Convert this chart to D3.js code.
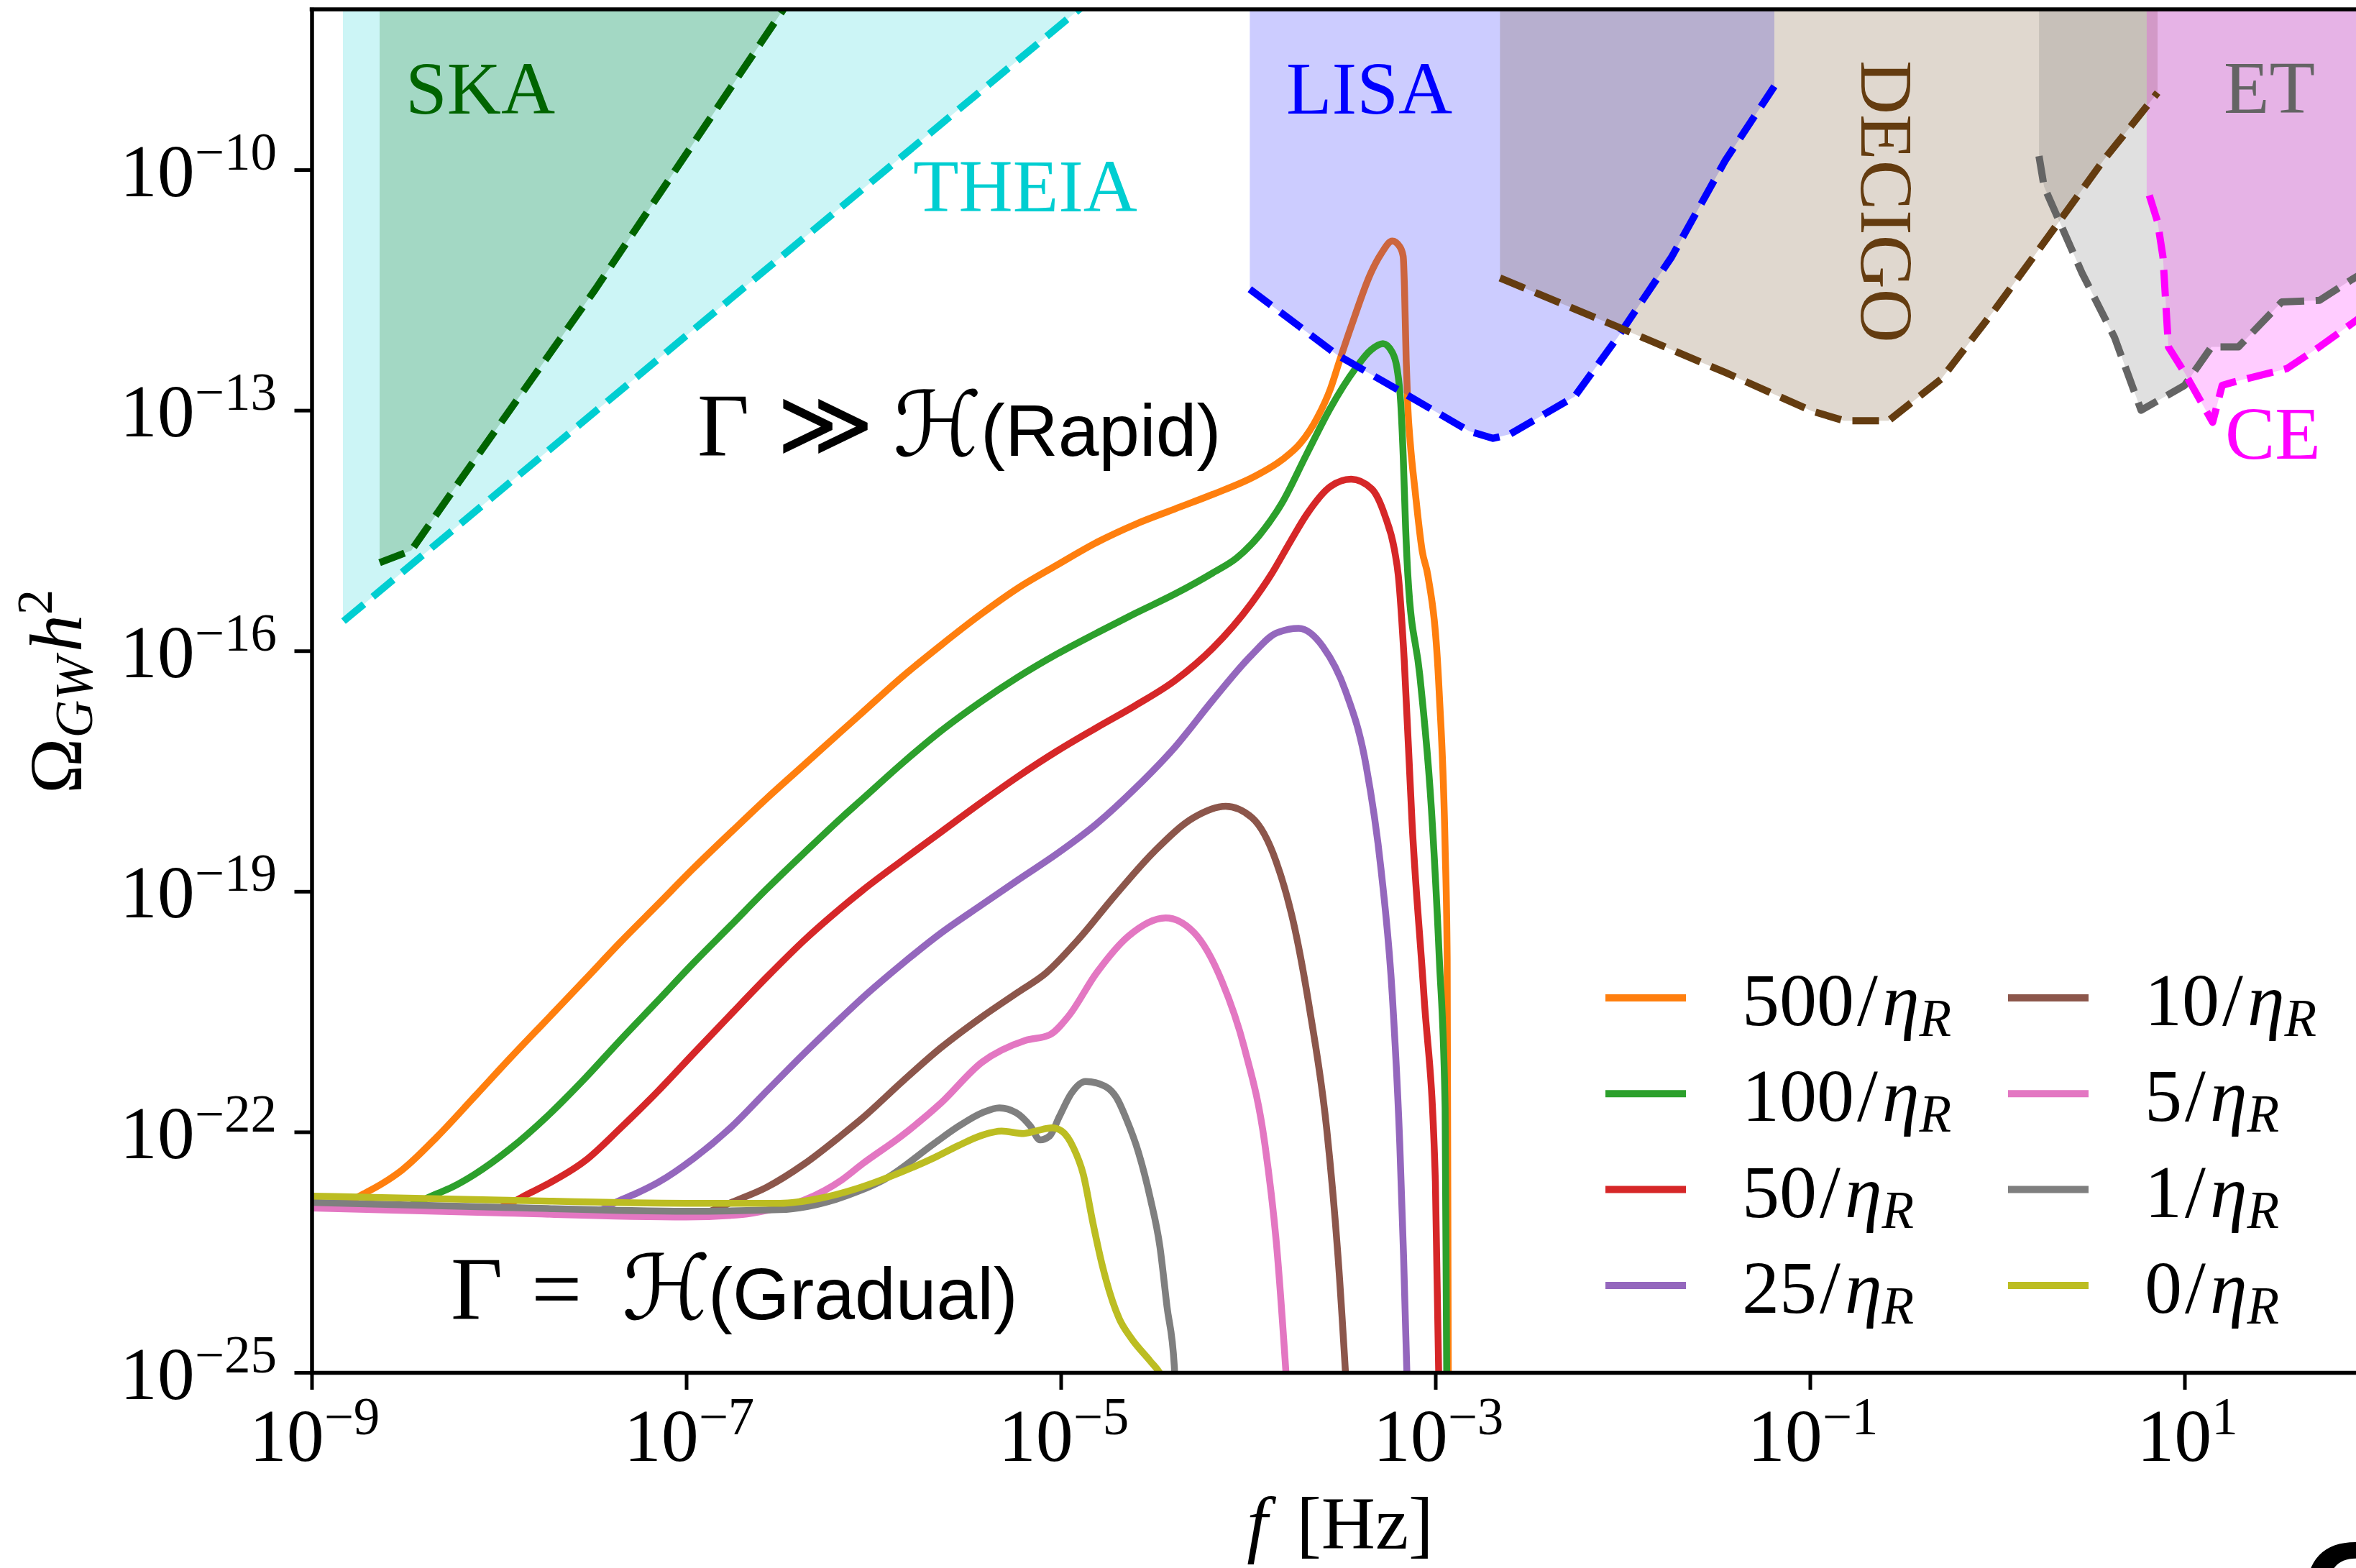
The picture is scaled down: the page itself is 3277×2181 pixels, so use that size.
<!DOCTYPE html>
<html>
<head>
<meta charset="utf-8">
<script src="https://cdn.jsdelivr.net/npm/d3@7"></script>
<style>
  html, body { margin: 0; padding: 0; background: #ffffff; }
  svg { display: block; }
</style>
</head>
<body>
<svg id="chart" width="3277" height="2181"></svg>
<script>
// ---------------------------------------------------------------
// Data: every point is [log10(f / Hz), log10(Omega_GW h^2)]
// ---------------------------------------------------------------
const seriesNames  = ["500", "100", "50", "25", "10", "5", "1", "0"];
const seriesColors = ["#ff7f0e", "#2ca02c", "#d62728", "#9467bd",
                      "#8c564b", "#e377c2", "#7f7f7f", "#bcbd22"];

const gw500 = [[-9.00,-22.92],[-8.92,-22.91],[-8.84,-22.88],[-8.77,-22.83],[-8.72,-22.77],[-8.62,-22.64],
  [-8.52,-22.48],[-8.33,-22.06],[-8.13,-21.56],[-7.94,-21.08],[-7.74,-20.59],[-7.54,-20.10],[-7.35,-19.63],
  [-7.15,-19.16],[-6.96,-18.71],[-6.76,-18.26],[-6.57,-17.84],[-6.37,-17.42],[-6.17,-17.00],[-6.06,-16.77],
  [-5.85,-16.33],[-5.64,-15.93],[-5.43,-15.55],[-5.23,-15.22],[-5.02,-14.93],[-4.81,-14.65],[-4.60,-14.42],
  [-4.39,-14.23],[-4.19,-14.05],[-3.97,-13.83],[-3.82,-13.62],[-3.72,-13.41],[-3.63,-13.09],[-3.56,-12.73],
  [-3.51,-12.37],[-3.44,-11.89],[-3.345,-11.29],[-3.29,-11.05],[-3.23,-10.89],[-3.19,-10.96],[-3.172,-11.08],
  [-3.165,-11.47],[-3.156,-12.37],[-3.147,-12.97],[-3.134,-13.41],[-3.108,-14.01],[-3.07,-14.76],[-3.04,-15.06],
  [-2.98,-16.50],[-2.948,-18.45],[-2.937,-19.84],[-2.930,-26.0]];

const gw100 = [[-9.00,-22.93],[-8.60,-22.95],[-8.50,-22.93],[-8.43,-22.88],[-8.37,-22.81],[-8.25,-22.69],
  [-8.13,-22.53],[-7.94,-22.21],[-7.74,-21.80],[-7.54,-21.33],[-7.35,-20.85],[-7.15,-20.36],[-6.96,-19.89],
  [-6.76,-19.42],[-6.57,-18.97],[-6.37,-18.52],[-6.17,-18.08],[-6.06,-17.85],[-5.85,-17.41],[-5.64,-17.00],
  [-5.43,-16.64],[-5.23,-16.33],[-5.02,-16.04],[-4.81,-15.78],[-4.60,-15.53],[-4.39,-15.29],[-4.19,-15.03],
  [-4.06,-14.84],[-3.94,-14.56],[-3.82,-14.16],[-3.69,-13.56],[-3.56,-12.97],[-3.43,-12.49],[-3.345,-12.25],
  [-3.28,-12.17],[-3.23,-12.28],[-3.204,-12.49],[-3.185,-12.91],[-3.172,-13.56],[-3.159,-14.46],
  [-3.147,-15.06],[-3.083,-16.31],[-3.021,-17.98],[-2.979,-19.84],[-2.948,-21.70],[-2.937,-26.0]];

const gw50 = [[-9.00,-22.93],[-8.50,-22.96],[-8.10,-22.98],[-8.00,-22.95],[-7.93,-22.88],[-7.85,-22.78],
  [-7.74,-22.65],[-7.54,-22.36],[-7.35,-21.95],[-7.15,-21.49],[-6.96,-21.02],[-6.76,-20.53],[-6.57,-20.07],
  [-6.37,-19.61],[-6.17,-19.20],[-6.06,-18.99],[-5.85,-18.62],[-5.64,-18.26],[-5.43,-17.90],[-5.23,-17.57],
  [-5.02,-17.25],[-4.81,-16.96],[-4.60,-16.68],[-4.39,-16.37],[-4.19,-15.97],[-3.98,-15.40],[-3.88,-15.06],
  [-3.77,-14.62],[-3.69,-14.31],[-3.56,-13.95],[-3.45,-13.86],[-3.34,-13.98],[-3.27,-14.31],[-3.217,-14.76],
  [-3.198,-15.06],[-3.166,-16.13],[-3.124,-18.17],[-3.061,-20.30],[-3.00,-22.62],[-2.975,-26.0]];

const gw25 = [[-9.00,-22.93],[-8.00,-22.99],[-7.55,-23.01],[-7.45,-22.97],[-7.37,-22.87],[-7.26,-22.76],
  [-7.15,-22.63],[-6.96,-22.33],[-6.76,-21.94],[-6.57,-21.49],[-6.37,-21.02],[-6.17,-20.57],[-6.06,-20.33],
  [-5.85,-19.91],[-5.64,-19.52],[-5.43,-19.18],[-5.23,-18.86],[-5.02,-18.53],[-4.81,-18.16],[-4.60,-17.71],
  [-4.39,-17.20],[-4.19,-16.62],[-3.98,-16.05],[-3.85,-15.78],[-3.73,-15.72],[-3.60,-15.95],[-3.48,-16.50],
  [-3.37,-17.43],[-3.29,-18.73],[-3.23,-20.30],[-3.19,-22.16],[-3.17,-23.54],[-3.14,-26.0]];

const gw10 = [[-9.00,-22.94],[-8.00,-23.00],[-7.00,-23.04],[-6.90,-23.01],[-6.82,-22.94],[-6.76,-22.88],
  [-6.57,-22.69],[-6.37,-22.40],[-6.17,-22.04],[-6.06,-21.83],[-5.85,-21.38],[-5.64,-20.95],[-5.43,-20.58],
  [-5.23,-20.26],[-5.08,-20.02],[-4.91,-19.61],[-4.71,-19.05],[-4.50,-18.50],[-4.29,-18.08],[-4.12,-17.94],
  [-3.98,-18.08],[-3.85,-18.63],[-3.75,-19.47],[-3.67,-20.49],[-3.58,-21.97],[-3.52,-23.55],[-3.455,-26.0]];

const gw5 = [[-9.00,-22.95],[-8.00,-23.01],[-7.00,-23.06],[-6.70,-23.03],[-6.57,-22.98],[-6.37,-22.85],
  [-6.17,-22.60],[-6.06,-22.40],[-5.85,-22.05],[-5.64,-21.64],[-5.42,-21.13],[-5.19,-20.86],[-5.06,-20.79],
  [-4.96,-20.56],[-4.81,-20.02],[-4.64,-19.56],[-4.44,-19.33],[-4.29,-19.51],[-4.14,-20.12],[-4.02,-20.95],
  [-3.91,-22.16],[-3.85,-23.36],[-3.77,-26.0]];

const gw1 = [[-9.00,-22.88],[-8.00,-22.94],[-7.00,-22.99],[-6.50,-22.97],[-6.20,-22.84],[-6.08,-22.74],
  [-5.94,-22.59],[-5.674,-22.14],[-5.546,-21.93],[-5.418,-21.76],[-5.328,-21.70],[-5.239,-21.76],
  [-5.162,-21.93],[-5.111,-22.10],[-5.059,-22.05],[-5.008,-21.81],[-4.944,-21.52],[-4.868,-21.37],
  [-4.765,-21.43],[-4.701,-21.58],[-4.650,-21.84],[-4.586,-22.25],[-4.522,-22.83],[-4.471,-23.43],
  [-4.433,-24.18],[-4.394,-24.92],[-4.38,-26.0]];

const gw0 = [[-9.00,-22.80],[-8.00,-22.85],[-7.00,-22.89],[-6.50,-22.89],[-6.29,-22.83],[-6.08,-22.70],
  [-5.85,-22.50],[-5.674,-22.32],[-5.546,-22.17],[-5.418,-22.04],[-5.316,-21.99],[-5.200,-22.02],
  [-5.136,-21.99],[-5.047,-21.95],[-4.995,-21.99],[-4.932,-22.20],[-4.880,-22.53],[-4.829,-23.13],
  [-4.778,-23.67],[-4.688,-24.33],[-4.625,-24.57],[-4.522,-24.86],[-4.471,-25.01],[-4.40,-25.4]];

const spectra = [gw500, gw100, gw50, gw25, gw10, gw5, gw1, gw0];

// Detector sensitivity curves (same units)
const skaCurve    = [[-8.637,-14.90],[-8.468,-14.75],[-8.230,-13.95],[-7.485,-11.49],[-6.484,-8.01],[-6.20,-7.10]];
const theiaCurve  = [[-8.830,-15.63],[-6.825,-11.73],[-4.902,-8.00],[-4.50,-7.22]];
const lisaCurve   = [[-3.991,-11.49],[-3.524,-12.31],[-3.166,-12.79],[-2.820,-13.26],[-2.692,-13.35],
                     [-2.603,-13.30],[-2.257,-12.83],[-2.027,-12.09],[-1.739,-11.09],[-1.451,-9.88],[-1.190,-8.96]];
const decigoCurve = [[-2.655,-11.35],[-2.027,-11.96],[-1.451,-12.53],[-0.990,-13.01],[-0.818,-13.13],
                     [-0.580,-13.13],[-0.299,-12.61],[-0.008,-11.73],[0.280,-10.81],[0.568,-9.88],[0.856,-9.04]];
const etCurve     = [[0.223,-9.83],[0.250,-10.21],[0.453,-11.29],[0.626,-12.09],[0.768,-13.00],[1.000,-12.69],
                     [1.144,-12.21],[1.288,-12.21],[1.519,-11.65],[1.720,-11.63],[1.893,-11.37],[2.000,-11.22]];
const ceCurve     = [[0.812,-10.32],[0.856,-10.65],[0.885,-11.09],[0.914,-12.21],[1.000,-12.53],[1.150,-13.15],
                     [1.201,-12.69],[1.259,-12.65],[1.547,-12.48],[1.720,-12.21],[1.916,-11.88],[2.000,-11.75]];

// Left edges of shaded regions (log10 f) where they differ from the curve start
const skaLeft = -8.637, theiaLeft = -8.833, ceLeft = 0.798;

const xTickExps = [-9, -7, -5, -3, -1, 1];
const yTickExps = [-25, -22, -19, -16, -13, -10];

// ---------------------------------------------------------------
const svg = d3.select("#chart");
const W = 3277, H = 2181;
const plot = { left: 433.5, right: 3299, top: 13, bottom: 1909 };
const serif = "'Liberation Serif', 'DejaVu Serif', serif";
const sans  = "'Liberation Sans', Arial, sans-serif";

svg.append("rect").attr("width", W).attr("height", H).attr("fill", "#ffffff");

const x = d3.scaleLog().domain([1e-9, 1e2]).range([plot.left, plot.right]);
const y = d3.scaleLog().domain([1e-25, 1e-8]).range([plot.bottom, plot.top]);
const p10 = v => Math.pow(10, v);

svg.append("defs").append("clipPath").attr("id", "plotClip")
  .append("rect").attr("x", plot.left).attr("y", plot.top)
  .attr("width", plot.right - plot.left).attr("height", plot.bottom - plot.top);

const area = svg.append("g").attr("clip-path", "url(#plotClip)");

const smooth = d3.line().x(d => x(p10(d[0]))).y(d => y(p10(d[1])))
  .curve(d3.curveMonotoneX);
const straight = d3.line().x(d => x(p10(d[0]))).y(d => y(p10(d[1])));

// region above a sensitivity curve, closed along the top of the plot
function regionPts(curve, leftX) {
  const first = curve[0], last = curve[curve.length - 1];
  const pts = [];
  if (leftX !== undefined) pts.push([leftX, 0], [leftX, first[1]]);
  else pts.push([first[0], 0]);
  curve.forEach(p => pts.push(p));
  pts.push([last[0], 0]);
  return pts;
}
function fillRegion(curve, color, leftX) {
  area.append("path").attr("d", straight(regionPts(curve, leftX)) + "Z")
    .attr("fill", color).attr("fill-opacity", 0.2).attr("stroke", "none");
}

const DLW = 10, DASH = "37,16";
const LW = 9.5;

// shaded regions under the spectra
fillRegion(theiaCurve, "#00ced1", theiaLeft);
fillRegion(skaCurve, "#006400", skaLeft);

// spectra (first one sits beneath the LISA shading)
function drawSpectrum(i) {
  area.append("path").attr("d", smooth(spectra[i]))
    .attr("fill", "none").attr("stroke", seriesColors[i])
    .attr("stroke-width", LW).attr("stroke-linejoin", "round");
}
drawSpectrum(0);

fillRegion(lisaCurve, "#0000ff");
fillRegion(decigoCurve, "#643c10");
fillRegion(etCurve, "#646464");
fillRegion(ceCurve, "#ff00ff", ceLeft);

for (let i = 1; i < spectra.length; i++) drawSpectrum(i);

// dashed sensitivity boundaries
[[skaCurve, "#006400"], [theiaCurve, "#00ced1"], [lisaCurve, "#0000ff"],
 [decigoCurve, "#643c10"], [etCurve, "#646464"], [ceCurve, "#ff00ff"]].forEach(([c, col]) => {
  area.append("path").attr("d", straight(c)).attr("fill", "none")
    .attr("stroke", col).attr("stroke-width", DLW)
    .attr("stroke-dasharray", DASH).attr("stroke-linejoin", "round");
});

// ---------------------------------------------------------------
// Axes
const xAxis = d3.axisBottom(x).tickValues(xTickExps.map(p10)).tickSize(24).tickSizeOuter(0).tickFormat(() => "");
const yAxis = d3.axisLeft(y).tickValues(yTickExps.map(p10)).tickSize(24).tickSizeOuter(0).tickFormat(() => "");

const gx = svg.append("g").attr("transform", `translate(0,${plot.bottom})`).call(xAxis);
const gy = svg.append("g").attr("transform", `translate(${plot.left},0)`).call(yAxis);
[gx, gy].forEach(g => {
  g.select(".domain").attr("stroke", "#000").attr("stroke-width", 5.5).attr("stroke-linecap", "square");
  g.selectAll(".tick line").attr("stroke", "#000").attr("stroke-width", 5);
  g.selectAll(".tick text").remove();
});
svg.append("line").attr("x1", plot.left).attr("x2", plot.right).attr("y1", plot.top).attr("y2", plot.top)
  .attr("stroke", "#000").attr("stroke-width", 5.5).attr("stroke-linecap", "square");
svg.append("line").attr("x1", plot.right).attr("x2", plot.right).attr("y1", plot.top).attr("y2", plot.bottom)
  .attr("stroke", "#000").attr("stroke-width", 5.5);

function powLabel(sel, exp) {
  sel.append("tspan").text("10");
  sel.append("tspan").attr("font-size", 73).attr("dy", -37)
    .text(exp < 0 ? "\u2212" + Math.abs(exp) : String(exp));
}
xTickExps.forEach(e => {
  const t = svg.append("text").attr("x", x(p10(e)) + 4).attr("y", 2032)
    .attr("text-anchor", "middle").attr("font-family", serif).attr("font-size", 104).attr("fill", "#000");
  powLabel(t, e);
});
yTickExps.forEach(e => {
  const t = svg.append("text").attr("x", 385).attr("y", y(p10(e)) + 36.5)
    .attr("text-anchor", "end").attr("font-family", serif).attr("font-size", 104).attr("fill", "#000");
  powLabel(t, e);
});

// axis titles
const xt = svg.append("text").attr("x", 1864).attr("y", 2154).attr("text-anchor", "middle")
  .attr("font-family", serif).attr("font-size", 104).attr("fill", "#000");
xt.append("tspan").attr("font-style", "italic").text("f");
xt.append("tspan").attr("dx", 40).text("[Hz]");

const yt = svg.append("text").attr("transform", "translate(113,962) rotate(-90)")
  .attr("text-anchor", "middle").attr("font-family", serif).attr("font-size", 104).attr("fill", "#000");
yt.append("tspan").text("\u03A9");
yt.append("tspan").attr("font-size", 73).attr("font-style", "italic").attr("dy", 15).text("GW");
yt.append("tspan").attr("font-style", "italic").attr("dy", -15).attr("dx", 6).text("h");
yt.append("tspan").attr("font-size", 70).attr("dy", -41).text("2");

// ---------------------------------------------------------------
// Detector names
function label(txt, px, py, color) {
  return svg.append("text").attr("x", px).attr("y", py).attr("fill", color)
    .attr("font-family", serif).attr("font-size", 104).text(txt);
}
label("SKA", 564, 158, "#006400");
label("THEIA", 1270, 294, "#00ced1");
label("LISA", 1789, 158, "#0000ff");
label("ET", 3093, 157, "#646464");
label("CE", 3095, 638, "#ff00ff");
svg.append("text").attr("transform", "translate(2589,84) rotate(90)")
  .attr("fill", "#643c10").attr("font-family", serif).attr("font-size", 104).text("DECIGO");

// Regime annotations
function regime(by, parts) {
  const t = svg.append("text").attr("y", by).attr("fill", "#000");
  parts.forEach(p => {
    t.append("tspan").attr("x", p.x).attr("font-family", p.font).attr("font-size", p.size)
      .attr("font-style", p.italic ? "italic" : null).text(p.text);
  });
}
const scriptFont = "'DejaVu Serif', 'DejaVu Sans', serif";
const symFont = "'DejaVu Sans', sans-serif";
regime(634, [
  { x: 970, text: "\u0393", font: serif, size: 125 },
  { x: 1080, text: "\u226B", font: symFont, size: 130 },
  { x: 1242, text: "\u210B", font: scriptFont, size: 125 },
  { x: 1364, text: "(Rapid)", font: sans, size: 102 }
]);
regime(1835, [
  { x: 627, text: "\u0393", font: serif, size: 125 },
  { x: 739, text: "=", font: serif, size: 125 },
  { x: 865, text: "\u210B", font: scriptFont, size: 125 },
  { x: 985, text: "(Gradual)", font: sans, size: 102 }
]);

// ---------------------------------------------------------------
// Legend (two columns of four)
const legHandleX = [2233, 2793], legTextX = [2423, 2983];
const legRow0 = 1388, legStep = 133.3;
seriesNames.forEach((name, i) => {
  const col = Math.floor(i / 4), row = i % 4;
  const cy = legRow0 + row * legStep;
  svg.append("line").attr("x1", legHandleX[col]).attr("x2", legHandleX[col] + 112)
    .attr("y1", cy).attr("y2", cy).attr("stroke", seriesColors[i]).attr("stroke-width", 10);
  const t = svg.append("text").attr("x", legTextX[col]).attr("y", cy + 38)
    .attr("font-family", serif).attr("font-size", 104).attr("fill", "#000");
  t.append("tspan").text(name);
  t.append("tspan").attr("dx", 4).text("/");
  t.append("tspan").attr("font-style", "italic").attr("dx", 6).text("\u03B7");
  t.append("tspan").attr("font-style", "italic").attr("font-size", 73).attr("dy", 15).text("R");
});

// partial panel mark at the lower right corner
svg.append("text").attr("x", 3200).attr("y", 2285).attr("font-family", sans)
  .attr("font-weight", "bold").attr("font-size", 200).attr("fill", "#000").text("C");
</script>
</body>
</html>
